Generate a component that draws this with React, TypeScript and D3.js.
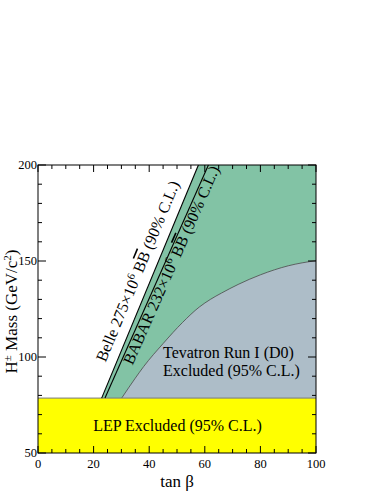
import React, { useEffect, useRef } from "react";
import * as d3 from "d3";

// Values
const lepLimit = 78.6;
const tanbDomain = [0, 100];
const massDomain = [50, 200];
const belleLine = [
  { tanb: 22.9, mass: 78.6 },
  { tanb: 57.7, mass: 200 },
];
const babarLine = [
  { tanb: 24.1, mass: 78.6 },
  { tanb: 61.3, mass: 200 },
];
const tevatronTanb = [30.1, 35, 38, 45, 52, 58, 62, 66, 72, 80, 90, 100];
const tevatronMass = [78.6, 89, 95, 107, 118, 126, 130, 133.3, 137.8, 142.8, 147.5, 150.2];
const xTickLabels = [0, 20, 40, 60, 80, 100];
const yTickLabels = [50, 100, 150, 200];

const width = 382;
const height = 494;
const margin = { top: 165, right: 66, bottom: 41, left: 38 };
const serif = "'Liberation Serif', 'Times New Roman', serif";

export default function App() {
  const svgRef = useRef<SVGSVGElement>(null);

  useEffect(() => {
    const svg = d3.select(svgRef.current);
    svg.selectAll("*").remove();

    const x = d3.scaleLinear().domain(tanbDomain).range([margin.left, width - margin.right]);
    const y = d3.scaleLinear().domain(massDomain).range([height - margin.bottom, margin.top]);

    const tevatron = tevatronTanb.map((t, i) => ({ tanb: t, mass: tevatronMass[i] }));

    const line = d3
      .line<{ tanb: number; mass: number }>()
      .x((d) => x(d.tanb))
      .y((d) => y(d.mass));
    const curve = d3
      .line<{ tanb: number; mass: number }>()
      .x((d) => x(d.tanb))
      .y((d) => y(d.mass))
      .curve(d3.curveMonotoneX);

    // green region (B physics exclusion)
    const greenPts = [
      belleLine[0],
      belleLine[1],
      { tanb: tanbDomain[1], mass: massDomain[1] },
      { tanb: tanbDomain[1], mass: lepLimit },
    ];
    svg.append("path").attr("d", line(greenPts) + "Z").attr("fill", "#82c3a5");

    // tevatron region
    const tevPath =
      curve(tevatron) +
      `L${x(tanbDomain[1])},${y(lepLimit)}L${x(tevatron[0].tanb)},${y(lepLimit)}Z`;
    svg.append("path").attr("d", tevPath).attr("fill", "#adbdc8");
    svg
      .append("path")
      .attr("d", curve(tevatron))
      .attr("fill", "none")
      .attr("stroke", "#4a4a4a")
      .attr("stroke-width", 0.8);

    // LEP
    svg
      .append("rect")
      .attr("x", x(tanbDomain[0]))
      .attr("y", y(lepLimit))
      .attr("width", x(tanbDomain[1]) - x(tanbDomain[0]))
      .attr("height", y(massDomain[0]) - y(lepLimit))
      .attr("fill", "#ffff00");
    svg
      .append("line")
      .attr("x1", x(tanbDomain[0]))
      .attr("x2", x(tanbDomain[1]))
      .attr("y1", y(lepLimit))
      .attr("y2", y(lepLimit))
      .attr("stroke", "#777")
      .attr("stroke-width", 1);

    // Belle / BABAR limit lines
    [belleLine, babarLine].forEach((l) => {
      svg
        .append("path")
        .attr("d", line(l))
        .attr("fill", "none")
        .attr("stroke", "#000")
        .attr("stroke-width", 1.1);
    });

    // frame
    svg
      .append("rect")
      .attr("x", margin.left)
      .attr("y", margin.top)
      .attr("width", width - margin.left - margin.right)
      .attr("height", height - margin.top - margin.bottom)
      .attr("fill", "none")
      .attr("stroke", "#000")
      .attr("stroke-width", 1);

    // ticks (inside, all four sides)
    const ticks = svg.append("g").attr("stroke", "#000").attr("stroke-width", 1);
    d3.range(0, 101, 5).forEach((t) => {
      const len = t % 20 === 0 ? 7 : 4;
      const px = x(t);
      ticks.append("line").attr("x1", px).attr("x2", px).attr("y1", y(50)).attr("y2", y(50) - len);
      ticks.append("line").attr("x1", px).attr("x2", px).attr("y1", y(200)).attr("y2", y(200) + len);
    });
    d3.range(50, 201, 10).forEach((m) => {
      const len = m % 50 === 0 ? 8 : 4;
      const py = y(m);
      ticks.append("line").attr("x1", x(0)).attr("x2", x(0) + len).attr("y1", py).attr("y2", py);
      ticks.append("line").attr("x1", x(100)).attr("x2", x(100) - len).attr("y1", py).attr("y2", py);
    });

    const text = svg.append("g").attr("font-family", serif).attr("fill", "#000");

    text
      .selectAll(".xl")
      .data(xTickLabels)
      .join("text")
      .attr("x", (d) => x(d))
      .attr("y", 468)
      .attr("text-anchor", "middle")
      .attr("font-size", 12.5)
      .text((d) => d);
    text
      .selectAll(".yl")
      .data(yTickLabels)
      .join("text")
      .attr("x", margin.left - 1)
      .attr("y", (d) => y(d))
      .attr("dy", "0.35em")
      .attr("text-anchor", "end")
      .attr("font-size", 12.5)
      .text((d) => d);

    // axis titles
    text
      .append("text")
      .attr("x", 177)
      .attr("y", 487)
      .attr("text-anchor", "middle")
      .attr("font-size", 17)
      .text("tan β");

    const yt = text
      .append("text")
      .attr("transform", `translate(16.5,${311.5}) rotate(-90)`)
      .attr("text-anchor", "middle")
      .attr("font-size", 17);
    yt.append("tspan").text("H");
    yt.append("tspan").attr("dy", -6).attr("font-size", 11).text("±");
    yt.append("tspan").attr("dy", 6).text(" Mass (GeV/c");
    yt.append("tspan").attr("dy", -6).attr("font-size", 11).text("2");
    yt.append("tspan").attr("dy", 6).text(")");

    // region labels
    text
      .append("text")
      .attr("x", 177.5)
      .attr("y", 431)
      .attr("text-anchor", "middle")
      .attr("font-size", 16)
      .text("LEP Excluded (95% C.L.)");
    text
      .append("text")
      .attr("x", 163)
      .attr("y", 358)
      .attr("font-size", 16)
      .text("Tevatron Run I (D0)");
    text
      .append("text")
      .attr("x", 163)
      .attr("y", 376)
      .attr("font-size", 16)
      .text("Excluded (95% C.L.)");

    // labels along the Belle / BABAR lines
    function along(l: { tanb: number; mass: number }[], mass: number, offset: number) {
      const p0 = [x(l[0].tanb), y(l[0].mass)];
      const p1 = [x(l[1].tanb), y(l[1].mass)];
      const f = (mass - l[0].mass) / (l[1].mass - l[0].mass);
      const px = p0[0] + f * (p1[0] - p0[0]);
      const py = p0[1] + f * (p1[1] - p0[1]);
      const ang = Math.atan2(p1[1] - p0[1], p1[0] - p0[0]);
      // glyph-top direction (perpendicular, toward upper left)
      const ux = Math.sin(ang);
      const uy = -Math.cos(ang);
      return { px: px + ux * offset, py: py + uy * offset, deg: (ang * 180) / Math.PI };
    }

    function lineLabel(l: { tanb: number; mass: number }[], mass: number, offset: number, name: string, count: string) {
      const a = along(l, mass, offset);
      const t = text
        .append("text")
        .attr("transform", `translate(${a.px},${a.py}) rotate(${a.deg})`)
        .attr("font-size", 16);
      t.append("tspan").text(`${name} ${count}×10`);
      t.append("tspan").attr("dy", -6).attr("font-size", 11).text("6");
      t.append("tspan").attr("dy", 6).text(" B");
      t.append("tspan").attr("text-decoration", "overline").text("B");
      t.append("tspan").text(" (90% C.L.)");
    }

    lineLabel(belleLine, 95, 10, "Belle", "275");
    lineLabel(babarLine, 98, -12, "BABAR", "232");
  }, []);

  return (
    <svg
      ref={svgRef}
      width={width}
      height={height}
      style={{ position: "absolute", left: 0, top: 0, background: "#fff" }}
    />
  );
}
